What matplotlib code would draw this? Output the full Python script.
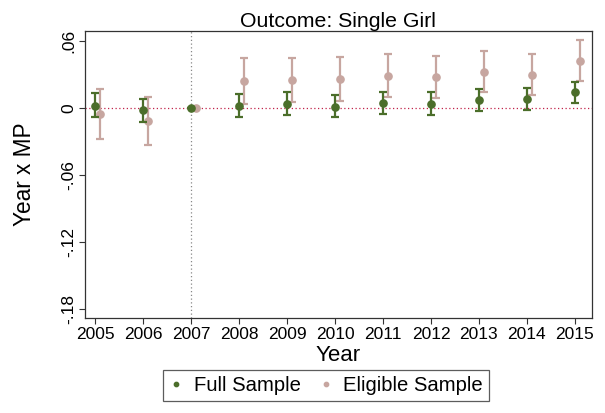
import matplotlib
matplotlib.use('Agg')
import matplotlib.pyplot as plt
import numpy as np

plt.rcParams['font.family'] = ['Liberation Sans', 'DejaVu Sans']

years = [2005, 2006, 2007, 2008, 2009, 2010, 2011, 2012, 2013, 2014, 2015]

# Full sample: point estimate, CI low, CI high
full_est = [0.0023, -0.0021, 0.0, 0.0021, 0.0039, 0.0014, 0.0045, 0.0041, 0.0074, 0.0081, 0.0143]
full_lo = [-0.0084, -0.0125, 0.0, -0.0078, -0.0066, -0.0084, -0.0057, -0.0063, -0.0024, -0.0015, 0.0045]
full_hi = [0.0134, 0.0083, 0.0, 0.0128, 0.0146, 0.0119, 0.0146, 0.0140, 0.0173, 0.0179, 0.0238]

# Eligible sample
elig_est = [-0.0057, -0.0120, 0.0, 0.0245, 0.0253, 0.0260, 0.0289, 0.0280, 0.0325, 0.0301, 0.0426]
elig_lo = [-0.0278, -0.0335, 0.0, 0.0036, 0.0054, 0.0065, 0.0095, 0.0090, 0.0143, 0.0116, 0.0245]
elig_hi = [0.0170, 0.0101, 0.0, 0.0453, 0.0453, 0.0460, 0.0484, 0.0471, 0.0510, 0.0484, 0.0609]

yticks = [0.06, 0, -0.06, -0.12, -0.18]
ytick_labels = ['.06', '0', '-.06', '-.12', '-.18']

green = '#4b6e2a'
pink = '#c7a6a0'

fig = plt.figure(figsize=(6.05, 4.13), dpi=100)
ax = fig.add_axes([0.1405, 0.23, 0.8375, 0.695])

x = np.array(years, dtype=float)
shift = 0.1

def draw(xs, est, lo, hi, color, label, z):
    est = np.array(est)
    err = np.vstack([est - np.array(lo), np.array(hi) - est])
    ax.errorbar(xs, est, yerr=err, fmt='none', ecolor=color, elinewidth=1.6,
                capsize=3, capthick=1.6, zorder=z)
    ax.plot(xs, est, 'o', color=color, markersize=5.2, zorder=z + 0.5, label=label)

ax.axhline(0, color='#c0224a', linestyle=(0, (1, 2)), linewidth=0.9, zorder=1)
ax.axvline(2007, color='#888888', linestyle=(0, (1, 2)), linewidth=0.9, zorder=1)

draw(x + shift, elig_est, elig_lo, elig_hi, pink, 'Eligible Sample', 2)
draw(x, full_est, full_lo, full_hi, green, 'Full Sample', 4)

ax.set_xlim(2004.79, 2015.35)
ax.set_ylim(-0.1884, 0.0692)
ax.set_xticks(years)
ax.set_xticklabels([str(y) for y in years], fontsize=12.5)
ax.set_yticks(yticks)
ax.set_yticklabels(ytick_labels, fontsize=12.5, rotation=90, va='center')
ax.tick_params(direction='out', length=4, width=0.8, color='#333333', pad=2.5)

for s in ax.spines.values():
    s.set_color('#333333')
    s.set_linewidth(0.9)

ax.set_title('Outcome: Single Girl', fontsize=15.3, pad=3)
ax.set_xlabel('Year', fontsize=16, labelpad=2)
ax.set_ylabel('Year x MP', fontsize=16.3, labelpad=18)

handles, labels = ax.get_legend_handles_labels()
order = [1, 0]
leg = fig.legend([handles[i] for i in order], [labels[i] for i in order],
                 loc='center', bbox_to_anchor=(0.539, 0.067), ncol=2, fontsize=14.6,
                 frameon=True, fancybox=False, edgecolor='#333333',
                 markerscale=0.6, handlelength=0.7, handletextpad=0.5,
                 columnspacing=0.9, borderpad=0.3)
leg.get_frame().set_linewidth(0.9)

fig.savefig('out.png', dpi=100)
